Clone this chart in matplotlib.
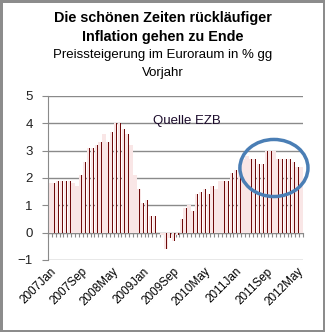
import matplotlib.pyplot as plt
import numpy as np
from matplotlib.patches import Ellipse

# monthly inflation euro area, % yoy, 2007 Jan .. 2012 Jun
y2007 = [1.8, 1.8, 1.9, 1.9, 1.9, 1.9, 1.8, 1.7, 2.1, 2.6, 3.1, 3.1]
y2008 = [3.2, 3.3, 3.6, 3.3, 3.7, 4.0, 4.0, 3.8, 3.6, 3.2, 2.1, 1.6]
y2009 = [1.1, 1.2, 0.6, 0.6, 0.0, -0.1, -0.6, -0.2, -0.3, -0.1, 0.5, 0.9]
y2010 = [1.0, 0.8, 1.4, 1.5, 1.6, 1.4, 1.7, 1.6, 1.9, 1.9, 1.9, 2.2]
y2011 = [2.3, 2.4, 2.7, 2.8, 2.7, 2.7, 2.5, 2.5, 3.0, 3.0, 3.0, 2.7]
y2012 = [2.7, 2.7, 2.7, 2.6, 2.4, 2.4]
values = y2007 + y2008 + y2009 + y2010 + y2011 + y2012

tick_labels = ["2007Jan", "2007Sep", "2008May", "2009Jan", "2009Sep",
               "2010May", "2011Jan", "2011Sep", "2012May"]
tick_pos = [0, 8, 16, 24, 32, 40, 48, 56, 64]

plt.rcParams['font.family'] = ['Liberation Sans', 'DejaVu Sans']

fig = plt.figure(figsize=(3.25, 3.32), dpi=100)
fig.patch.set_edgecolor('#8c8c8c')
fig.patch.set_linewidth(2.5)
ax = fig.add_axes([48/325, 1 - 260/332, 255/325, 164/332])

x = np.arange(len(values))
ax.bar(x, values, width=0.9, color='#f9e6e6', zorder=1)
ax.bar(x + 0.25, values, width=0.2, color='#6e0a0a', zorder=3)

ax.set_xlim(-0.5, len(values) - 0.5)
ax.set_ylim(-1, 5)
ax.set_yticks(range(-1, 6))
ax.yaxis.grid(True, color='#8a8a8a', linewidth=1)
ax.set_axisbelow(True)
for s in ['top', 'right', 'bottom']:
    ax.spines[s].set_visible(False)
ax.spines['left'].set_color('#8a8a8a')
ax.tick_params(axis='y', length=4, color='#8a8a8a', labelsize=9.5, labelcolor='#222222', pad=7)

ax.set_xticks(tick_pos)
ax.set_xticklabels(tick_labels, rotation=45, ha='right', rotation_mode='anchor', fontsize=8.5)
ax.tick_params(axis='x', length=0, pad=4)

# category axis crossing at zero with monthly tick marks
sec = ax.secondary_xaxis(1/6)
sec.set_xticks(np.arange(-0.5, len(values), 1.0))
sec.tick_params(axis='x', direction='out', length=3, color='#8a8a8a', labelbottom=False, labeltop=False)
sec.spines['bottom'].set_color('#8a8a8a')

ax.text(26.6, 4.08, "Quelle EZB", fontsize=9.5, color='#1c0c2c', va='center', ha='left')

ax.add_patch(Ellipse((0.886, 0.561), 0.267, 0.348, transform=ax.transAxes,
                     fill=False, edgecolor='#4a7eb5', linewidth=2.5, clip_on=False, zorder=5))

fig.text(0.5, 1 - 18/332, "Die schönen Zeiten rückläufiger", ha='center', va='center',
         fontsize=10.4, fontweight='bold')
fig.text(0.5, 1 - 37/332, "Inflation gehen zu Ende", ha='center', va='center',
         fontsize=10.4, fontweight='bold')
fig.text(0.5, 1 - 55/332, "Preissteigerung im Euroraum in % gg", ha='center', va='center',
         fontsize=9.5)
fig.text(0.5, 1 - 73/332, "Vorjahr", ha='center', va='center', fontsize=9.5)

plt.savefig('out.png', dpi=100, edgecolor=fig.get_edgecolor())
